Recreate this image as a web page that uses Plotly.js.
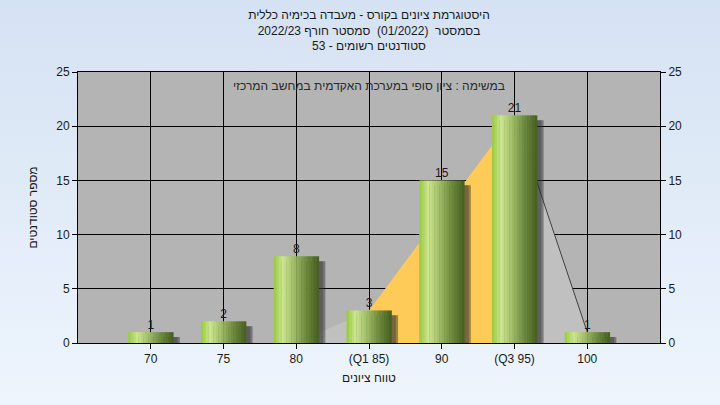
<!DOCTYPE html>
<html>
<head>
<meta charset="utf-8">
<script src="https://cdn.plot.ly/plotly-3.0.1.min.js"></script>
<style>
  html, body { margin: 0; padding: 0; width: 720px; height: 405px; overflow: hidden;
    background: linear-gradient(to bottom, #d5e2f3 0%, #eef5fd 100%); }
  #chart { width: 720px; height: 405px; }
</style>
</head>
<body>
<div id="chart"></div>
<script>
// ---- data ----
const categories = ['70', '75', '80', '(Q1 85)', '90', '(Q3 95)', '100'];
const counts = [1, 2, 8, 3, 15, 21, 1];
const countLabels = ['1', '2', '8', '3', '15', '21', '1'];

// shaded areas behind the bars (lower tail, inter-quartile range, upper tail)
const lowTailX = ['80', '(Q1 85)', '(Q1 85)'];
const lowTailY = [0, 3, 0];
const iqrX = ['(Q1 85)', '(Q1 85)', '(Q3 95)', '(Q3 95)'];
const iqrY = [0, 3, 21, 0];
const highTailX = ['(Q3 95)', '(Q3 95)', '100', '100'];
const highTailY = [0, 21, 1, 0];
const highLineX = ['(Q3 95)', '100'];
const highLineY = [21, 1];

const yTicks = [0, 5, 10, 15, 20, 25];

const titleLines = [
  'היסטוגרמת ציונים בקורס - מעבדה בכימיה כללית',
  'בסמסטר  (01/2022)  סמסטר חורף 2022/23',
  'סטודנטים רשומים - 53'
];
const noteText = 'במשימה : ציון סופי במערכת האקדמית במחשב המרכזי';
const xTitle = 'טווח ציונים';
const yTitle = 'מספר סטודנטים';

// ---- styling ----
const FONT = 'Liberation Sans, Arial, DejaVu Sans, sans-serif';
const BAR_W = 0.62;
const N_SLICES = 18;
const stops = [
  [0.00, [150, 200, 60]],
  [0.20, [204, 230, 142]],
  [0.45, [160, 188, 102]],
  [0.72, [108, 138, 60]],
  [1.00, [68, 94, 32]]
];
function gradColor(t) {
  for (let i = 1; i < stops.length; i++) {
    if (t <= stops[i][0]) {
      const a = stops[i - 1], b = stops[i];
      const f = (t - a[0]) / (b[0] - a[0]);
      const c = a[1].map((v, k) => Math.round(v + (b[1][k] - v) * f));
      return 'rgb(' + c.join(',') + ')';
    }
  }
  return 'rgb(' + stops[stops.length - 1][1].join(',') + ')';
}

const traces = [];
// areas
traces.push({ type: 'scatter', x: lowTailX, y: lowTailY, fill: 'toself', fillcolor: '#c0c0c0',
  mode: 'lines', line: { width: 0 }, hoverinfo: 'skip', showlegend: false });
traces.push({ type: 'scatter', x: iqrX, y: iqrY, fill: 'toself', fillcolor: '#fecb58',
  mode: 'lines', line: { width: 0 }, hoverinfo: 'skip', showlegend: false });
traces.push({ type: 'scatter', x: highTailX, y: highTailY, fill: 'toself', fillcolor: '#c0c0c0',
  mode: 'lines', line: { width: 0 }, hoverinfo: 'skip', showlegend: false });
traces.push({ type: 'scatter', x: highLineX, y: highLineY, mode: 'lines',
  line: { color: '#404040', width: 1 }, hoverinfo: 'skip', showlegend: false });

// shadows (on a slightly shifted axis so they sit a few px lower)
traces.push({ type: 'bar', x: categories, y: counts, yaxis: 'y2', width: BAR_W, offset: -BAR_W / 2 + 0.09,
  marker: { color: 'rgba(45,45,45,0.45)', line: { width: 0 } }, hoverinfo: 'skip', showlegend: false });
traces.push({ type: 'bar', x: categories, y: counts, yaxis: 'y2', width: BAR_W, offset: -BAR_W / 2 + 0.06,
  marker: { color: 'rgba(45,45,45,0.35)', line: { width: 0 } }, hoverinfo: 'skip', showlegend: false });

// cylinder-like bars made of thin vertical slices
const sw = BAR_W / N_SLICES;
for (let i = 0; i < N_SLICES; i++) {
  traces.push({ type: 'bar', x: categories, y: counts, yaxis: 'y3',
    width: sw + 0.004, offset: -BAR_W / 2 + i * sw,
    marker: { color: gradColor((i + 0.5) / N_SLICES), line: { width: 0 } },
    hoverinfo: 'skip', showlegend: false });
}
// value labels
traces.push({ type: 'scatter', x: categories, y: counts, yaxis: 'y3', mode: 'text',
  text: countLabels, textposition: 'top center',
  textfont: { family: FONT, size: 12, color: '#1a1a1a' }, hoverinfo: 'skip', showlegend: false });

const axisFont = { family: FONT, size: 12, color: '#1a1a1a' };
const layout = {
  width: 720, height: 405,
  margin: { l: 78, r: 60, t: 72, b: 62 },
  paper_bgcolor: 'rgba(0,0,0,0)',
  plot_bgcolor: '#b4b4b4',
  barmode: 'overlay',
  showlegend: false,
  font: { family: FONT, size: 12, color: '#1a1a1a' },
  title: {
    text: titleLines.join('<br>'),
    x: 0.5, xref: 'paper', xanchor: 'center',
    y: 0.953, yref: 'container', yanchor: 'top',
    font: { family: FONT, size: 12, color: '#1a1a1a' }
  },
  xaxis: {
    type: 'category', categoryorder: 'array', categoryarray: categories,
    range: [-1, 7], showgrid: true, gridcolor: '#000', gridwidth: 1,
    showline: true, linecolor: '#000', linewidth: 1, mirror: true,
    ticks: 'outside', ticklen: 5, tickcolor: '#000', tickfont: axisFont,
    title: { text: xTitle, font: axisFont, standoff: 8 },
    fixedrange: true
  },
  yaxis: {
    range: [0, 25], tickvals: yTicks, showgrid: true, gridcolor: '#000', gridwidth: 1,
    zeroline: false, showline: true, linecolor: '#000', linewidth: 1, mirror: true,
    ticks: 'outside', ticklen: 5, tickcolor: '#000', tickfont: axisFont,
    title: { text: yTitle, font: axisFont, standoff: 16 },
    fixedrange: true
  },
  yaxis2: {
    overlaying: 'y', range: [0.45, 25.45], visible: false, showgrid: false, fixedrange: true
  },
  yaxis3: {
    overlaying: 'y', side: 'right', range: [0, 25], tickvals: yTicks,
    showgrid: false, zeroline: false, showline: true, linecolor: '#000',
    ticks: 'outside', ticklen: 5, tickcolor: '#000', tickfont: axisFont, fixedrange: true
  },
  annotations: [{
    text: noteText, xref: 'paper', yref: 'paper', x: 0.5, y: 0.948,
    xanchor: 'center', yanchor: 'middle', showarrow: false,
    font: { family: FONT, size: 12, color: '#2a2a2a' }
  }]
};

Plotly.newPlot('chart', traces, layout, { displayModeBar: false, staticPlot: true });
</script>
</body>
</html>
